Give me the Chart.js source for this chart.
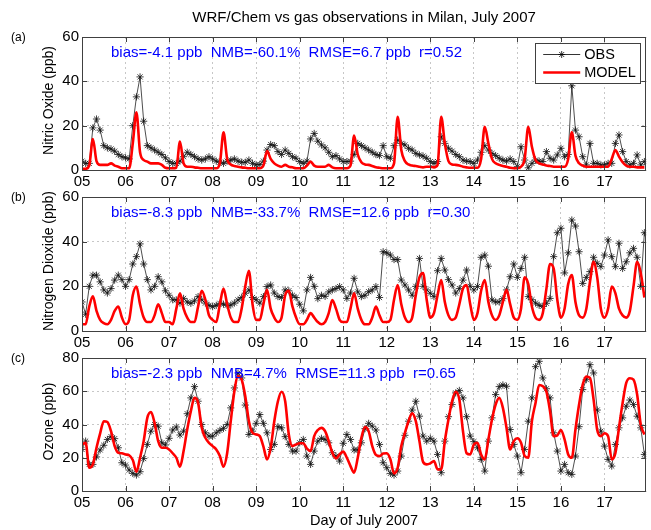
<!DOCTYPE html>
<html><head><meta charset="utf-8">
<script src="https://cdn.jsdelivr.net/npm/chart.js@4.4.1/dist/chart.umd.min.js"></script>
<style>
html,body{margin:0;padding:0;background:#fff;}
#wrap{position:relative;width:651px;height:530px;overflow:hidden;background:#fff;}
canvas{position:absolute;left:0;top:0;}
</style></head><body>
<div id="wrap">
<canvas id="cA" width="651" height="530"></canvas>
<canvas id="cB" width="651" height="530"></canvas>
<canvas id="cC" width="651" height="530"></canvas>
</div>
<script>
// ---- axis ticks ----
const dayTicks = [5,6,7,8,9,10,11,12,13,14,15,16,17];
const dayTickLabels = ['05','06','07','08','09','10','11','12','13','14','15','16','17'];
const startDay = 5, stepHours = 2;          // values every 2 hours, 5 Jul 00h .. 17 Jul 22h
const xMax = 17 + 23/24;

// ---- Nitric oxide (ppb), one row per day ----
const noObs = [
 4,3,3,19,23,18,11,10,9.5,8.5,7,6,
 5.5,5,20,33,42,22,11,10,9,8,7,5.5,
 3.8,3,3,4,6,8,7,6,5,4.5,5,6,
 5,4,3.5,3,4,4.5,5,4,3.5,3.5,4.5,3,
 2.3,2.5,4,9,11.5,11,8.3,7,9,7.5,6,5.3,
 3.8,3,4,14,16.5,13,11.3,10,8,6,6.5,5,
 3.8,3.8,4,7,12,11,10,9,8,7,6.5,11,
 6,5.3,11,13.5,12,11.3,9.8,9,7.5,6.8,6.3,5.3,
 3.8,3,3.8,15,12,9.8,8.5,7,6,4.5,4,3.8,
 3,4.5,8,11,9,7.5,6.5,5.3,4.5,4,5,3.8,
 1.5,10.5,4.5,1,3,4.5,4,3.8,8.3,5.3,4.5,6.8,
 9.8,6,7,38,18,15,6,2.3,12,3,3,2.3,
 2.3,3,3,12,15.8,8.3,3.8,2.3,3,6.8,2.3,3.8
];
const noModel = [
 0.5,0.5,2,14,4,2.3,2.3,2.3,3,2,1.5,0.8,
 0.8,0.8,12,26,8,4.5,3.8,3,3,3,2.3,1,
 0.8,0.8,1,12.8,3,1.5,1.5,1.2,1,0.8,0.8,0.8,
 0.8,0.8,3,17,5,2.5,1.8,1.5,1.2,1,0.8,0.8,
 0.8,0.8,2,8.5,5,3,2,1.5,2.3,1.5,1.2,0.8,
 0.8,0.8,2,3.8,2,1.5,1.5,1.5,2.3,1.2,0.8,0.8,
 0.8,0.8,2,15.5,7,3.5,2.5,2.3,1.8,1.2,1,0.8,
 0.8,0.8,3,24,9,4,2.5,2,1.8,1.5,1.2,1.5,
 1.5,1.2,2.3,24,12,4,2.5,2.3,2,1.5,1.2,1,
 1,1,5,19.5,12,5,3,2.3,1.8,1.5,1,0.8,
 0.8,1.5,5,19.5,10.5,4.5,3,2.5,2,1.8,1.5,1.5,
 1.5,1.5,5,17,6.5,3,2,1.5,1.5,1.5,1.5,1.5,
 1.5,1.5,5,9,6,3.5,2,1.5,1.5,1.2,1.2,1.2
];

// ---- Nitrogen dioxide (ppb) ----
const no2Obs = [
 13,7.5,20,25,25,22,18.4,17,19,22.8,25,23,
 20,23,30,33.3,39,30,23,18.4,20,24.3,22,18,
 16,14,13.9,12.5,14.6,13,12.4,13.5,15.4,14,12.5,11.5,
 10.9,11.5,12.4,12,11.5,11.6,12.5,13.9,15,16.9,18.4,15,
 14,12.5,15.4,19.9,20.6,17,15.4,15,18.4,18,16,15,
 12,9,18.4,24,20,14.5,16,15.5,17.5,18.4,19,19.9,
 18.4,14.6,17,23.6,17.5,15.4,16,17.6,18.4,19.9,15,35.5,
 35,34,32,32,22.8,20.6,18.4,16,20,32.5,20,18.4,
 16.9,15.4,27,32.5,27.3,23,20.6,17,19,22.8,27.3,20,
 18.4,19.9,33,34,29,13.9,13,13,14.5,18.4,24.3,30,
 24,28,33,15.4,14,12.5,11.5,11,12.4,14.6,33.3,44,
 46,26,35,49.7,47,35.5,21.3,24,26.6,33,30.3,28.8,
 34,40.8,33.3,28.8,39.3,28,31,35,37,33,20,44
];
const no2Model = [
 3,3,11,15.5,9,5,3.5,3,5,9,11,6,
 3,5,16,19.9,12,6,4,4,7,12,8,4,
 4,3,10,16.9,10,6,4,4,11,18,14,7,
 5,4,12,19,12,6,4,4,10,20,27,12,
 5,5,12,18.4,10,6,4,6,16,18,11,6,
 3,3,5,8,6,4,3,4,8,13.9,10,5,
 4,4,10,16.9,10,5,3,3,6,10.9,7,4,
 4,5,14,20.6,12,6,4,6,16,24,26,14,
 6,8,16,22.8,13,7,5,6,12,19,20.6,12,
 5,8,18,22.8,13,7,5,7,13,18.4,12,6,
 5,10,24,21,11,6,5,8,19,30,28,14,
 6,10,21,25,13,7,6,10,22,31,24,10,
 6,10,19.9,17,10,7,6,9,20,31,26,15
];

// ---- Ozone (ppb) ----
const o3Obs = [
 25,30,16,16,20.5,24.7,27.5,31,32.7,31.5,26,17,
 15.6,12.6,10.6,9.6,11.6,19.5,28,36,40,39,29,27.7,
 31.7,36.7,38.5,33.7,36,46.5,56,62.8,54,40,35,33,
 33,35,36.5,37.7,40,50,62,71,68,51.7,34,36,
 40.7,46,40.7,35,25,28,38.7,38,32.7,28,24,24,
 29,31,21,16,24,30,31.7,31,29,23,21,18,
 28.7,34,31,24.7,24.7,29,37.5,40.7,39,36.7,28,17,
 14,10.6,9.6,12,21,33.5,42,48.7,54,45,33,30,
 31.7,30,22,11,30,44.7,52,59,60.5,56,44.7,33,
 29.7,26,19,12,30,44,58,62.8,63.8,63,37,28,
 21,11,25,42,56,74.8,78,68,61.5,56,35,24,
 12,16,11,10,21,38.7,61,67,76,71,48.7,36,
 27,19,15,28,38,44,51,54.7,52,45,38,22
];
const o3Model = [
 28,29,14,16,26,34.7,42,41.5,36,27,23,22.7,
 22,21.5,18.6,11.6,20,30,44,47.5,41,30,26,26,
 25,22.7,20,14.6,24,37,48,56,53,38,32,29,
 27,25,21,14.6,22.7,42,60,69,67,57,42,35,
 34,33,26.7,19,26,42,54,59.7,54,34,27,28,
 28.7,28.7,25.5,24,33,36.7,38,36,30,23,19.6,22,
 23.7,20,15,11,20,32,38.5,36,27,21.7,21,22.5,
 22.7,19,10.5,14,27,35,42,46.7,42,30,17.5,16,
 16.6,18,13,13,30,43,54,59.7,55,36,22.7,22,
 28,29,22,19,31,43,52,56,50,38,25,30,
 31.7,29,21,20,42,53,63.8,63,59.7,48,33,33.5,
 36.7,31,22,20,37,52,64,68.8,68,55,36.7,33,
 34.7,33,19,22.7,38,53,65,67.8,67,58,40,34
];

const FONT = '"Liberation Sans", Arial, Helvetica, sans-serif';
const W = 651, H = 530, XAXIS_H = 20, YAXIS_W = 82;
const GRID = 'rgba(0,0,0,0.22)';
const BOX = '#404040';

const panels = [
 {id:'cA', tag:'(a)', ytitle:'Nitric Oxide (ppb)', ymax:60, obs:noObs, mod:noModel,
  stats:'bias=-4.1 ppb  NMB=-60.1%  RMSE=6.7 ppb  r=0.52', top:37, bottom:170, legend:true, title:'WRF/Chem vs gas observations in Milan, July 2007'},
 {id:'cB', tag:'(b)', ytitle:'Nitrogen Dioxide (ppb)', ymax:60, obs:no2Obs, mod:no2Model,
  stats:'bias=-8.3 ppb  NMB=-33.7%  RMSE=12.6 ppb  r=0.30', top:197, bottom:331},
 {id:'cC', tag:'(c)', ytitle:'Ozone (ppb)', ymax:80, obs:o3Obs, mod:o3Model,
  stats:'bias=-2.3 ppb  NMB=4.7%  RMSE=11.3 ppb  r=0.65', top:358, bottom:491, xtitle:'Day of July 2007'}
];

function drawStar(ctx, x, y, r){
  ctx.beginPath();
  ctx.moveTo(x-r,y); ctx.lineTo(x+r,y);
  ctx.moveTo(x,y-r); ctx.lineTo(x,y+r);
  const d = r*0.7071;
  ctx.moveTo(x-d,y-d); ctx.lineTo(x+d,y+d);
  ctx.moveTo(x-d,y+d); ctx.lineTo(x+d,y-d);
  ctx.stroke();
}

function panelPlugin(p){
  return {
    id:'panelDeco',
    afterDatasetsDraw(chart){
      const {ctx, chartArea:a, scales:{x, y}} = chart;
      ctx.save();
      // inside tick marks
      ctx.strokeStyle = BOX; ctx.lineWidth = 1;
      const L = 5;
      ctx.beginPath();
      x.ticks.forEach(t=>{
        const px = Math.round(x.getPixelForValue(t.value)) + 0.5;
        ctx.moveTo(px, a.bottom); ctx.lineTo(px, a.bottom - L);
        ctx.moveTo(px, a.top); ctx.lineTo(px, a.top + L);
      });
      y.ticks.forEach(t=>{
        const py = Math.round(y.getPixelForValue(t.value)) + 0.5;
        ctx.moveTo(a.left, py); ctx.lineTo(a.left + L, py);
        ctx.moveTo(a.right, py); ctx.lineTo(a.right - L, py);
      });
      ctx.stroke();
      // box
      ctx.strokeRect(Math.round(a.left)+0.5, Math.round(a.top)+0.5,
                     Math.round(a.right-a.left)-1, Math.round(a.bottom-a.top));
      // stats text
      ctx.fillStyle = '#0000ff';
      ctx.font = '15px ' + FONT;
      ctx.textAlign = 'left'; ctx.textBaseline = 'middle';
      ctx.fillText(p.stats, a.left + 29, a.top + 15.5);
      // panel label
      ctx.fillStyle = '#000';
      ctx.font = '12px ' + FONT;
      ctx.fillText(p.tag, 11, a.top + 1);
      // y title
      ctx.font = '14px ' + FONT;
      ctx.save();
      ctx.translate(49, (a.top + a.bottom)/2 - 3);
      ctx.rotate(-Math.PI/2);
      ctx.textAlign = 'center';
      ctx.fillText(p.ytitle, 0, 0);
      ctx.restore();
      if (p.title){
        ctx.textAlign = 'center';
        ctx.font = '15px ' + FONT;
        ctx.fillText(p.title, (a.left + a.right)/2, 18);
      }
      if (p.xtitle){
        ctx.textAlign = 'center';
        ctx.font = '14.5px ' + FONT;
        ctx.fillText(p.xtitle, (a.left + a.right)/2, 521);
      }
      if (p.legend){
        const bx = a.right - 111, by = a.top + 6, bw = 105, bh = 40;
        ctx.fillStyle = '#fff';
        ctx.fillRect(bx, by, bw, bh);
        ctx.strokeStyle = BOX; ctx.lineWidth = 1;
        ctx.strokeRect(Math.round(bx)+0.5, Math.round(by)+0.5, bw, bh);
        const y1 = by + 11.5, y2 = by + 29.5;
        ctx.strokeStyle = '#000'; ctx.lineWidth = 0.8;
        ctx.beginPath(); ctx.moveTo(bx+8, y1); ctx.lineTo(bx+45, y1); ctx.stroke();
        drawStar(ctx, bx+26.5, y1, 3.5);
        ctx.strokeStyle = '#ff0000'; ctx.lineWidth = 2.6;
        ctx.beginPath(); ctx.moveTo(bx+8, y2); ctx.lineTo(bx+45, y2); ctx.stroke();
        ctx.fillStyle = '#000';
        ctx.font = '14.5px ' + FONT;
        ctx.textAlign = 'left'; ctx.textBaseline = 'middle';
        ctx.fillText('OBS', bx+49, y1+0.5);
        ctx.fillText('MODEL', bx+49, y2+0.5);
      }
      ctx.restore();
    }
  };
}

function makeChart(p){
  const toPts = arr => arr.map((v,i)=>({x: startDay + i*stepHours/24, y: v}));
  return new Chart(document.getElementById(p.id), {
    type:'line',
    data:{datasets:[
      {label:'MODEL', data:toPts(p.mod), borderColor:'#ff0000', borderWidth:2.6,
       pointRadius:0, cubicInterpolationMode:'monotone', order:0, fill:false},
      {label:'OBS', data:toPts(p.obs), borderColor:'#000', borderWidth:0.7,
       pointStyle:'star', pointRadius:3.6, pointBorderColor:'#111', pointBackgroundColor:'#111',
       pointBorderWidth:0.8, tension:0, order:1, fill:false}
    ]},
    options:{
      responsive:false, animation:false, devicePixelRatio:1, events:[],
      layout:{padding:{left:0, right:1, top:p.top, bottom:H - p.bottom - XAXIS_H}},
      plugins:{legend:{display:false}, tooltip:{enabled:false}, title:{display:false}},
      scales:{
        x:{type:'linear', min:startDay, max:xMax,
           afterBuildTicks:s=>{ s.ticks = dayTicks.map(v=>({value:v})); },
           afterFit:s=>{ s.height = XAXIS_H; },
           ticks:{callback:v=>dayTickLabels[dayTicks.indexOf(v)], color:'#000',
                  font:{family:FONT, size:15}, padding:3, maxRotation:0, autoSkip:false},
           grid:{color:GRID, lineWidth:1, drawTicks:false},
           border:{display:false, dash:[2,3]}},
        y:{type:'linear', min:0, max:p.ymax,
           afterFit:s=>{ s.width = YAXIS_W; },
           ticks:{stepSize:20, color:'#000', font:{family:FONT, size:15}, padding:3},
           grid:{color:GRID, lineWidth:1, drawTicks:false},
           border:{display:false, dash:[2,3]}}
      }
    },
    plugins:[panelPlugin(p)]
  });
}

panels.forEach(makeChart);
</script>
</body></html>
